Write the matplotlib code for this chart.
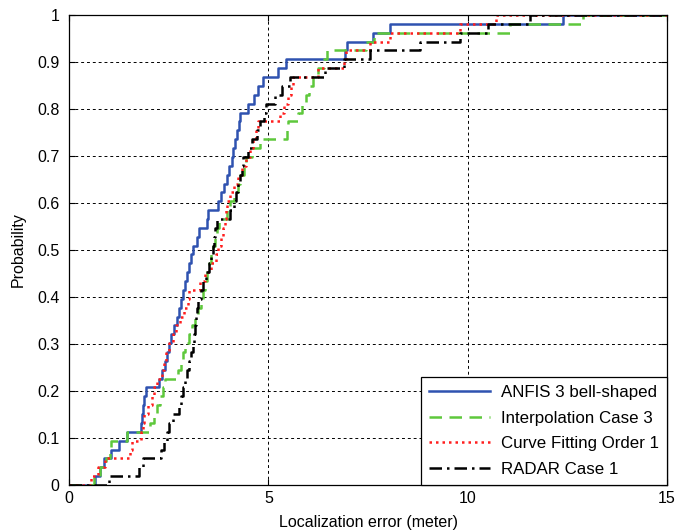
import numpy as np
import matplotlib
matplotlib.use("Agg")
import matplotlib.pyplot as plt

plt.rcParams['font.family'] = ['Liberation Sans', 'DejaVu Sans']

# Sorted localization errors (meters) read from the empirical CDFs
anfis = [0.65, 0.78, 0.88, 1.05, 1.25, 1.45, 1.8, 1.83, 1.86, 1.89, 1.92, 2.25, 2.33,
         2.4, 2.45, 2.5, 2.57, 2.63, 2.7, 2.76, 2.82, 2.87, 2.92, 2.97, 3.02, 3.07,
         3.12, 3.2, 3.27, 3.45, 3.48, 3.74, 3.82, 3.88, 3.95, 4.02, 4.08, 4.12, 4.17,
         4.21, 4.26, 4.3, 4.5, 4.65, 4.75, 4.87, 5.25, 5.45, 6.92, 6.97, 7.62, 8.05, 12.4]
interp = [0.62, 0.78, 0.92, 1.03, 1.05, 1.45, 2.03, 2.12, 2.2, 2.28, 2.35, 2.4, 2.73,
          2.8, 2.86, 2.92, 3.0, 3.08, 3.15, 3.23, 3.31, 3.37, 3.42, 3.47, 3.52, 3.56,
          3.61, 3.66, 3.71, 3.76, 3.96, 4.05, 4.15, 4.23, 4.3, 4.38, 4.45, 4.6, 4.8,
          5.47, 5.5, 5.74, 5.85, 5.94, 6.02, 6.12, 6.25, 6.4, 6.47, 7.45, 7.65, 11.05, 12.9]
curvefit = [0.55, 0.72, 0.9, 1.53, 1.58, 1.8, 1.85, 1.88, 1.98, 2.08, 2.14, 2.2, 2.32,
            2.38, 2.44, 2.5, 2.6, 2.68, 2.78, 2.88, 2.98, 3.0, 3.28, 3.4, 3.55, 3.68,
            3.74, 3.8, 3.85, 3.9, 3.94, 3.97, 4.05, 4.15, 4.25, 4.35, 4.45, 4.53, 4.62,
            4.7, 4.75, 5.3, 5.4, 5.5, 5.57, 5.62, 6.25, 6.9, 6.95, 7.55, 8.05, 9.8, 10.7]
radar = [1.0, 1.75, 1.85, 2.3, 2.38, 2.45, 2.52, 2.62, 2.75, 2.82, 2.87, 2.92, 2.96,
         3.02, 3.07, 3.11, 3.14, 3.17, 3.19, 3.21, 3.24, 3.3, 3.37, 3.44, 3.51, 3.56,
         3.6, 3.64, 3.67, 3.7, 4.05, 4.14, 4.2, 4.25, 4.29, 4.33, 4.37, 4.5, 4.6,
         4.71, 4.8, 4.88, 4.93, 5.17, 5.35, 5.55, 6.42, 6.9, 7.55, 8.8, 9.8, 10.5, 11.55]

labels = ["ANFIS 3 bell-shaped", "Interpolation Case 3", "Curve Fitting Order 1", "RADAR Case 1"]
xticks = [0, 5, 10, 15]
yticks = [0, 0.1, 0.2, 0.3, 0.4, 0.5, 0.6, 0.7, 0.8, 0.9, 1]
yticklabels = ["0", "0.1", "0.2", "0.3", "0.4", "0.5", "0.6", "0.7", "0.8", "0.9", "1"]

styles = [
    dict(color="#2f52b0", linestyle="-", linewidth=1.8),
    dict(color="#5ec83c", linestyle=(0, (5, 3)), linewidth=1.8),
    dict(color="#ff1e1e", linestyle=(0, (1, 1.6)), linewidth=1.8),
    dict(color="black", linestyle=(0, (5, 2, 1, 2)), linewidth=1.8),
]

fig = plt.figure(figsize=(6.8, 5.32), dpi=100)
ax = fig.add_axes([0.1015, 0.0883, 0.8795, 0.8835])

for data, lab, st in zip([anfis, interp, curvefit, radar], labels, styles):
    s = np.sort(np.asarray(data))
    n = len(s)
    xs = np.concatenate([[0], s, [15]])
    ys = np.concatenate([[0], np.arange(1, n + 1) / n, [1]])
    ax.step(xs, ys, where="post", label=lab, **st)

ax.set_xlim(0, 15)
ax.set_ylim(0, 1)
ax.set_xticks(xticks)
ax.set_yticks(yticks)
ax.set_yticklabels(yticklabels)
ax.tick_params(direction="in", top=True, right=True, labelsize=11.5, length=4, width=0.8)
ax.tick_params(axis="y", pad=7)
ax.tick_params(axis="x", pad=4)
ax.grid(True, color="black", linestyle=(0, (3, 3)), linewidth=0.7)
for sp in ax.spines.values():
    sp.set_linewidth(0.9)

ax.set_xlabel("Localization error (meter)", fontsize=11.5, labelpad=7)
ax.set_ylabel("Probability", fontsize=11.5, labelpad=8)

leg = ax.legend(loc="lower right", fontsize=12.2, frameon=True, fancybox=False,
                edgecolor="black", framealpha=1, handlelength=3.6, borderaxespad=0,
                labelspacing=0.62, borderpad=0.5, handletextpad=0.6)
leg.get_frame().set_linewidth(0.9)

fig.savefig("out.png", dpi=100)
